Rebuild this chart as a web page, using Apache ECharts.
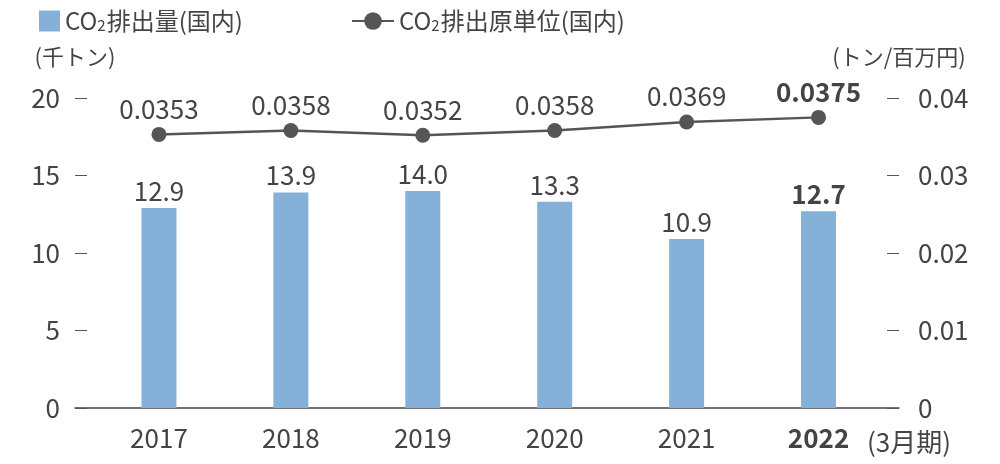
<!DOCTYPE html>
<html>
<head>
<meta charset="utf-8">
<script src="https://cdn.jsdelivr.net/npm/echarts@6/dist/echarts.min.js"></script>
<style>
    html, body { margin: 0; padding: 0; background: #fff; }
    #chart { width: 1000px; height: 464px; }
</style>
</head>
<body>
<div id="chart"></div>
<script>
var years = ["2017", "2018", "2019", "2020", "2021", "2022"];
var emissions = [12.9, 13.9, 14.0, 13.3, 10.9, 12.7];        // 千トン
var intensity = [0.0353, 0.0358, 0.0352, 0.0358, 0.0369, 0.0375]; // トン/百万円
var leftTicks = { min: 0, max: 20, interval: 5 };
var rightTicks = { min: 0, max: 0.04, interval: 0.01 };

var barName = "CO2排出量(国内)";
var lineName = "CO2排出原単位(国内)";

var textColor = "#444";
var fontFamily = "'Noto Sans CJK JP', 'Noto Sans', sans-serif";
var lastIdx = years.length - 1;

// bold for the latest year
var boldLast = function(arr) {
    return arr.map(function(v, i) {
        if (i !== lastIdx) return v;
        return { value: v, label: { fontWeight: "bold" } };
    });
};

var legendFormatter = function(name) {
    return "{a|CO}{s|2}{a|" + name.slice(3) + "}";
};
var legendRich = {
    a: { fontSize: 24, color: textColor, fontFamily: fontFamily },
    s: { fontSize: 15, color: textColor, fontFamily: fontFamily, padding: [9, 1, 0, 0] }
};

var chart = echarts.init(document.getElementById("chart"));

var option = {
    animation: false,
    textStyle: { fontFamily: fontFamily, color: textColor },
    legend: [{
        data: [{ name: barName, icon: "rect" }],
        left: 34, top: 4,
        itemWidth: 21, itemHeight: 21,
        formatter: legendFormatter,
        textStyle: { rich: legendRich }
    }, {
        data: [lineName],
        left: 346, top: 4,
        itemWidth: 42, itemHeight: 22,
        formatter: legendFormatter,
        textStyle: { rich: legendRich }
    }],
    title: {
        text: "(3月期)",
        left: 862, top: 424,
        textStyle: { fontSize: 26, fontWeight: "normal", color: textColor, fontFamily: fontFamily }
    },
    grid: [
        { left: 75, right: 101, top: 98, bottom: 56 },    // frame: axes + baseline
        { left: 93, right: 115.5, top: 98, bottom: 56 }   // data area
    ],
    xAxis: [{
        type: "category", gridIndex: 0, data: years,
        axisLine: { lineStyle: { color: "#444", width: 1.5 } },
        axisTick: { show: false },
        axisLabel: { show: false }
    }, {
        type: "category", gridIndex: 1, data: years,
        axisLine: { show: false },
        axisTick: { show: false },
        axisLabel: {
            fontSize: 26, color: textColor, margin: 17,
            formatter: function(v) { return v === years[lastIdx] ? "{b|" + v + "}" : v; },
            rich: { b: { fontSize: 26, fontWeight: "bold", color: textColor, fontFamily: fontFamily } }
        }
    }],
    yAxis: [{
        type: "value", gridIndex: 0, position: "left",
        min: leftTicks.min, max: leftTicks.max, interval: leftTicks.interval,
        name: "(千トン)", nameLocation: "end", nameGap: 30,
        nameTextStyle: { fontSize: 22, color: textColor },
        axisLine: { show: false },
        axisTick: { show: true, inside: true, length: 12, lineStyle: { color: "#555" } },
        axisLabel: { fontSize: 26, color: textColor, margin: 15 },
        splitLine: { show: false }
    }, {
        type: "value", gridIndex: 0, position: "right",
        min: rightTicks.min, max: rightTicks.max, interval: rightTicks.interval,
        name: "(トン/百万円)", nameLocation: "end", nameGap: 30,
        nameTextStyle: { fontSize: 22, color: textColor },
        axisLine: { show: false },
        axisTick: { show: true, inside: true, length: 12, lineStyle: { color: "#555" } },
        axisLabel: {
            fontSize: 26, color: textColor, margin: 19,
            formatter: function(v) { return v === 0 ? "0" : v.toFixed(2); }
        },
        splitLine: { show: false }
    }, {
        type: "value", gridIndex: 1, show: false,
        min: leftTicks.min, max: leftTicks.max
    }, {
        type: "value", gridIndex: 1, show: false,
        min: rightTicks.min, max: rightTicks.max
    }],
    series: [{
        name: barName,
        type: "bar",
        xAxisIndex: 1, yAxisIndex: 2,
        barWidth: 35,
        itemStyle: { color: "#85b0d8" },
        label: {
            show: true, position: "top", distance: 4,
            fontSize: 26, color: textColor,
            formatter: function(p) { return p.value.toFixed(1); }
        },
        data: boldLast(emissions)
    }, {
        name: lineName,
        type: "line",
        xAxisIndex: 1, yAxisIndex: 3,
        symbol: "circle", symbolSize: 15,
        lineStyle: { color: "#555", width: 2.5 },
        itemStyle: { color: "#555" },
        label: {
            show: true, position: "top", distance: 5,
            fontSize: 26, color: textColor,
            formatter: function(p) { return p.value.toFixed(4); }
        },
        data: boldLast(intensity)
    }]
};

chart.setOption(option);
</script>
</body>
</html>
